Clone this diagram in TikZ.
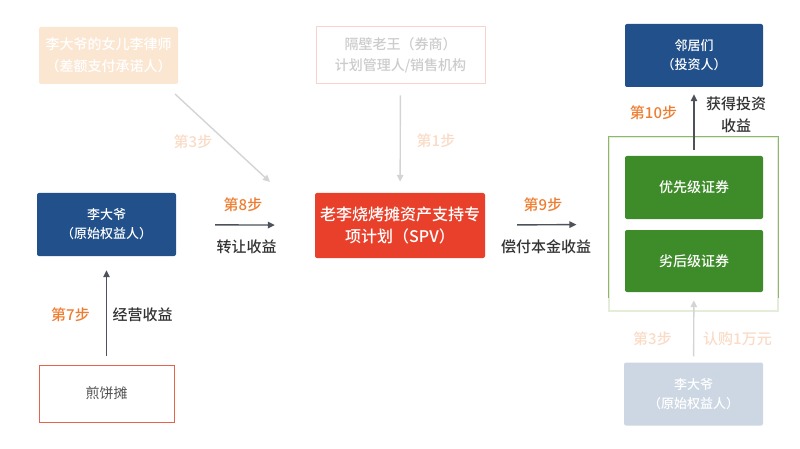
\documentclass[tikz,border=0pt]{standalone}
\usepackage{fontspec}
\setmainfont{Noto Sans CJK SC}[BoldFont={Noto Sans CJK SC Medium}]
\usetikzlibrary{arrows.meta}

\definecolor{navy}{HTML}{21508A}
\definecolor{navyfade}{HTML}{CDD7E3}
\definecolor{spvred}{HTML}{E8402A}
\definecolor{trgreen}{HTML}{3E8B2A}
\definecolor{framegreen}{HTML}{8DB86C}
\definecolor{framefade}{HTML}{E3EDD9}
\definecolor{steporange}{HTML}{ED7D31}
\definecolor{stepfade}{HTML}{F9DBC6}
\definecolor{peachfade}{HTML}{FBE6D1}
\definecolor{redfade}{HTML}{F8D3CD}
\definecolor{textfade}{HTML}{CCCCCC}
\definecolor{stallred}{HTML}{E8634C}
\definecolor{arrowgray}{HTML}{4D5159}
\definecolor{arrowfade}{HTML}{D4D4D4}
\definecolor{darktext}{HTML}{333333}

\tikzset{
  box/.style={rectangle, rounded corners=2pt, align=center, inner sep=0pt,
    minimum width=139pt, minimum height=63pt, font=\fontsize{13}{19}\bfseries},
  navybox/.style={box, fill=navy, text=white},
  greenbox/.style={box, fill=trgreen, text=white, font=\fontsize{14}{19}\bfseries},
  link/.style={-{Triangle[length=7pt,width=6.5pt]}, line width=1.4pt, draw=arrowgray},
  fadedlink/.style={link, draw=arrowfade},
  steplabel/.style={text=steporange, font=\fontsize{15}{19}\bfseries},
  fadedlabel/.style={steplabel, text=stepfade},
  flowlabel/.style={text=darktext, font=\fontsize{15}{22}\bfseries, align=center},
}

\begin{document}
\begin{tikzpicture}[x=1pt, y=-1pt]
    \useasboundingbox (0,0) rectangle (800,449);
    % parties
    \node[box, fill=peachfade, text=white, minimum height=57pt,
      font=\fontsize{14}{22}\bfseries] (lawyer) at (108.5,55.5)
      {李大爷的女儿李律师\\（差额支付承诺人）};
    \node[box, fill=white, draw=redfade, line width=1pt, rounded corners=0pt,
      text=textfade, minimum width=169pt, minimum height=57pt,
      font=\fontsize{14}{21}\bfseries] (broker) at (400.5,55.5)
      {隔壁老王（券商）\\计划管理人/销售机构};
    \node[navybox, minimum width=138pt] (investors) at (694,55.5) {邻居们\\（投资人）};
    \node[navybox] (orig) at (106.5,224.5) {李大爷\\（原始权益人）};
    \node[box, fill=spvred, text=white, minimum width=170pt, minimum height=65pt,
      font=\fontsize{16}{22}\bfseries] (spv) at (400,225.5)
      {老李烧烤摊资产支持专\\项计划（SPV）};
    \node[box, fill=white, draw=stallred, line width=1pt, rounded corners=0pt,
      text=darktext!85, minimum width=135pt, minimum height=57pt,
      font=\fontsize{14}{19}\selectfont] (stall) at (106.5,393.5) {煎饼摊};
    \node[box, fill=navyfade, text=white] (origfade) at (693.5,394) {李大爷\\（原始权益人）};

    % tranches
    \node[rectangle, draw=framefade, line width=1.2pt, minimum width=169pt,
      minimum height=174pt, inner sep=0pt] (tranche) at (693.5,224) {};
    \draw[framegreen, line width=1.2pt] ([yshift=14pt]tranche.south west)
      |- (tranche.north) -| ([yshift=14pt]tranche.south east);
    \node[greenbox, minimum width=138pt] (senior) at (694,187.5) {优先级证券};
    \node[greenbox, minimum width=138pt, minimum height=62pt] (junior) at (694,261) {劣后级证券};

    % faded links
    \coordinate (d3s) at (175,94);
    \coordinate (d3e) at (270,182);
    \draw[fadedlink] (d3s) -- (d3e);
    \draw[fadedlink, shorten <=11pt, shorten >=11pt] (broker) -- (spv);
    \draw[fadedlink, shorten <=6pt, shorten >=8pt] (origfade) -- (junior);

    % links
    \draw[link, shorten <=9pt, shorten >=14pt] (stall) -- (orig);
    \draw[link, shorten <=39pt, shorten >=40pt] (orig) -- (spv);
    \draw[link, shorten <=32pt, shorten >=32pt] (spv) -- (tranche);
    \draw[link, shorten <=6pt, shorten >=7pt] (senior) -- (investors);

    % labels
    \node[fadedlabel] (s3a) at (193,142) {第3步};
    \node[fadedlabel] (s1) at (436,141) {第1步};
    \node[steplabel] (s8) at (243,205) {第8步};
    \node[flowlabel] (f8) at (246.5,247) {转让收益};
    \node[steplabel] (s9) at (543,205) {第9步};
    \node[flowlabel] (f9) at (546,247) {偿付本金收益};
    \node[steplabel] (s7) at (70.5,315) {第7步};
    \node[flowlabel] (f7) at (142.5,315) {经营收益};
    \node[steplabel] (s10) at (653.5,113) {第10步};
    \node[flowlabel] (f10) at (736,114.5) {获得投资\\收益};
    \node[fadedlabel] (s3b) at (652.5,339) {第3步};
    \node[flowlabel, text=stepfade] (f3) at (737.5,339) {认购1万元};
\end{tikzpicture}
\end{document}
